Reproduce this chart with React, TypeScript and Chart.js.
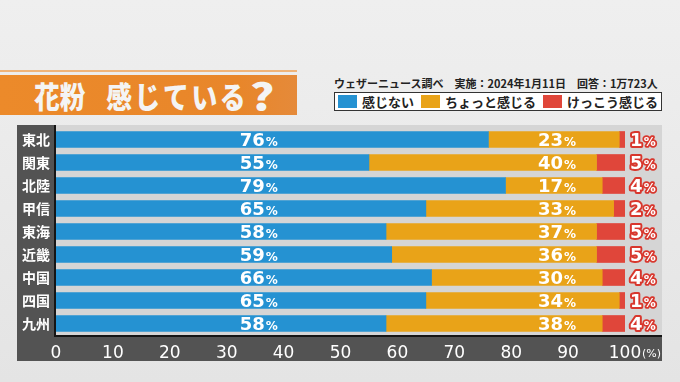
import React, { useEffect, useRef } from 'react';
import { Chart, registerables } from 'chart.js';

Chart.register(...registerables);

const regions = ['東北', '関東', '北陸', '甲信', '東海', '近畿', '中国', '四国', '九州'];
const notFeel = [76, 55, 79, 65, 58, 59, 66, 65, 58];
const littleFeel = [23, 40, 17, 33, 37, 36, 30, 34, 38];
const stronglyFeel = [1, 5, 4, 2, 5, 5, 4, 1, 4];
const seriesNames = ['感じない', 'ちょっと感じる', 'けっこう感じる'];
const seriesColors = ['#2592d2', '#e9a318', '#e0463a'];
const titleWords = ['花粉', '感じている', '?'];
const sourceText = 'ウェザーニュース調べ　実施：2024年1月11日　回答：1万723人';

const NUM_FONT = '"DejaVu Sans", sans-serif';
const JP_FONT = '"Noto Sans CJK JP", sans-serif';

const backdrop = {
  id: 'backdrop',
  beforeDraw(chart: any) {
    const { ctx, chartArea } = chart;
    const { left, top, bottom } = chartArea;
    const farRight = 662;
    const panelBottom = 361;
    ctx.save();
    ctx.fillStyle = '#d5d5d5';
    ctx.fillRect(left, top - 3, farRight - left, bottom - top + 3);
    ctx.fillStyle = '#535353';
    ctx.fillRect(17, top - 3, left - 17, panelBottom - (top - 3));
    ctx.fillRect(17, bottom, farRight - 17, panelBottom - bottom);
    ctx.fillStyle = '#151515';
    ctx.fillRect(left - 2, top - 3, 2, bottom - top + 5);
    ctx.fillRect(left - 2, bottom, farRight - left + 2, 2);
    ctx.restore();
  },
};

function drawPct(ctx: any, x: number, y: number, v: number, outline: boolean) {
  const num = String(v);
  ctx.textAlign = 'left';
  ctx.textBaseline = 'alphabetic';
  ctx.font = `bold 18px ${NUM_FONT}`;
  const w = ctx.measureText(num).width;
  ctx.lineJoin = 'round';
  if (outline) {
    ctx.strokeStyle = '#d8372d';
    ctx.lineWidth = 4;
    ctx.strokeText(num, x, y + 6.5);
  }
  ctx.fillStyle = '#ffffff';
  ctx.fillText(num, x, y + 6.5);
  ctx.font = `bold 12px ${NUM_FONT}`;
  if (outline) {
    ctx.lineWidth = 3.5;
    ctx.strokeText('%', x + w + 1, y + 6.5);
  }
  ctx.fillText('%', x + w + 1, y + 6.5);
}

const valueLabels = {
  id: 'valueLabels',
  afterDatasetsDraw(chart: any) {
    const { ctx, scales } = chart;
    const xs = scales.x;
    const ys = scales.y;
    ctx.save();
    regions.forEach((_, i) => {
      const y = ys.getPixelForValue(i);
      drawPct(ctx, xs.getPixelForValue(32.3), y, notFeel[i], false);
      drawPct(ctx, xs.getPixelForValue(84.7), y, littleFeel[i], false);
      drawPct(ctx, xs.getPixelForValue(100.9), y, stronglyFeel[i], true);
    });
    ctx.font = `11px ${NUM_FONT}`;
    ctx.fillStyle = '#ffffff';
    ctx.textAlign = 'left';
    ctx.textBaseline = 'alphabetic';
    ctx.fillText('(%)', xs.getPixelForValue(100) + 17, chart.chartArea.bottom + 22);
    ctx.restore();
  },
};

export default function App() {
  const ref = useRef<HTMLCanvasElement>(null);
  useEffect(() => {
    if (!ref.current) return;
    const chart = new Chart(ref.current, {
      type: 'bar',
      data: {
        labels: regions,
        datasets: [
          { label: seriesNames[0], data: notFeel, backgroundColor: seriesColors[0] },
          { label: seriesNames[1], data: littleFeel, backgroundColor: seriesColors[1] },
          { label: seriesNames[2], data: stronglyFeel, backgroundColor: seriesColors[2] },
        ],
      },
      options: {
        indexAxis: 'y',
        responsive: false,
        animation: false,
        events: [],
        datasets: { bar: { barThickness: 16, borderWidth: 0 } },
        layout: { padding: { left: 17, right: 55, top: 128, bottom: 23 } },
        plugins: { legend: { display: false }, tooltip: { enabled: false } },
        scales: {
          x: {
            stacked: true,
            min: 0,
            max: 100,
            grid: { display: false, drawTicks: false },
            border: { display: false },
            ticks: {
              stepSize: 10,
              color: '#ffffff',
              padding: 8,
              maxRotation: 0,
              font: { family: NUM_FONT, size: 17 },
            },
            afterFit: (s: any) => { s.height = 24; },
          },
          y: {
            stacked: true,
            grid: { display: false, drawTicks: false },
            border: { display: false },
            ticks: {
              color: '#ffffff',
              padding: 6,
              font: { family: JP_FONT, size: 14, weight: 'bold' },
            },
            afterFit: (s: any) => { s.width = 39; },
          },
        },
      },
      plugins: [backdrop, valueLabels],
    });
    return () => chart.destroy();
  }, []);

  return (
    <div
      style={{
        position: 'fixed',
        left: 0,
        top: 0,
        width: 680,
        height: 382,
        overflow: 'hidden',
        background: 'linear-gradient(#efefef, #e4e4e4)',
        fontFamily: JP_FONT,
      }}
    >
      <div style={{ position: 'absolute', left: 0, top: 70, width: 297, height: 2, background: '#efb47a' }} />
      <div
        style={{
          position: 'absolute',
          left: 0,
          top: 75,
          width: 297,
          height: 40,
          background: 'linear-gradient(90deg, #ec8a2a, #e8862a 80%, #e58a3a)',
        }}
      />
      <div
        style={{
          position: 'absolute',
          left: 34,
          top: 75,
          height: 40,
          lineHeight: '40px',
          fontSize: 30,
          fontWeight: 900,
          color: '#f4f4f4',
          whiteSpace: 'nowrap',
          transform: 'scaleX(0.86)',
          transformOrigin: 'left center',
        }}
      >
        <span>{titleWords[0]}</span>
        <span style={{ marginLeft: 24, letterSpacing: 3 }}>{titleWords[1]}</span>
        <span
          style={{
            display: 'inline-block',
            fontSize: 37,
            marginLeft: 2,
            transform: 'scaleX(1.45)',
            transformOrigin: 'left center',
            verticalAlign: 'top',
          }}
        >
          {titleWords[2]}
        </span>
      </div>
      <div
        style={{
          position: 'absolute',
          left: 334,
          top: 76,
          fontSize: 11,
          fontWeight: 700,
          color: '#222',
          whiteSpace: 'nowrap',
          lineHeight: '14px',
        }}
      >
        {sourceText}
      </div>
      <div
        style={{
          position: 'absolute',
          left: 334,
          top: 92,
          width: 326,
          height: 17,
          border: '1.5px solid #333',
          background: '#ffffff',
          display: 'flex',
          alignItems: 'center',
          boxSizing: 'content-box',
        }}
      >
        {seriesNames.map((n, i) => (
          <div key={n} style={{ display: 'flex', alignItems: 'center', marginLeft: i === 0 ? 3 : 7 }}>
            <div style={{ width: 19, height: 13, background: seriesColors[i], marginRight: 5 }} />
            <span style={{ fontSize: 13, fontWeight: 700, color: '#222', lineHeight: '17px', whiteSpace: 'nowrap' }}>{n}</span>
          </div>
        ))}
      </div>
      <canvas ref={ref} width={680} height={382} style={{ position: 'absolute', left: 0, top: 0 }} />
    </div>
  );
}
